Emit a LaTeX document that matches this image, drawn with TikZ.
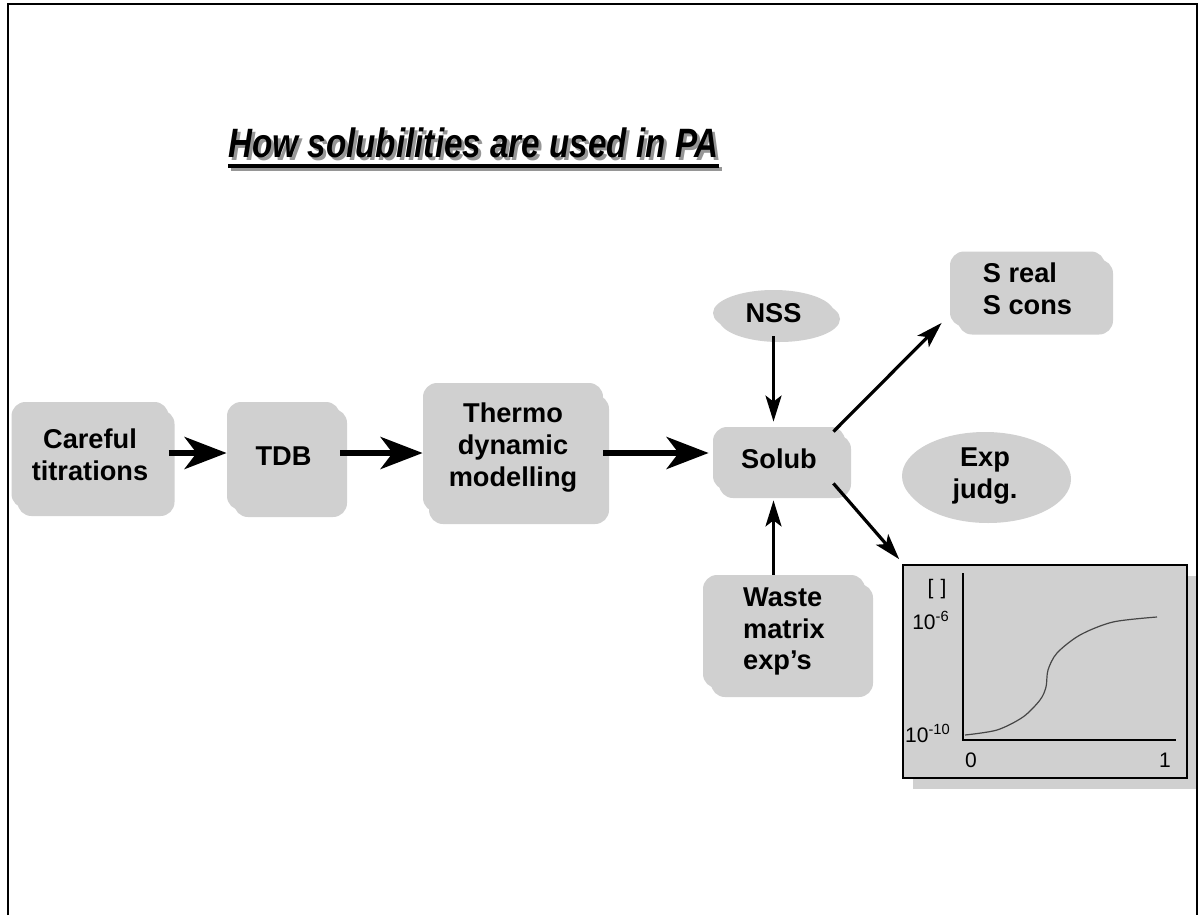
\documentclass[tikz,border=0pt]{standalone}
\usepackage{fontspec}
\setmainfont{Liberation Sans}
\usetikzlibrary{shapes.geometric}
\usetikzlibrary{shadows}
\usetikzlibrary{arrows.meta}
\usetikzlibrary{calc}

\definecolor{boxgray}{RGB}{208,208,208}
\definecolor{shadegray}{RGB}{150,150,150}
\definecolor{curvegray}{RGB}{70,70,70}

\newcommand{\titleplain}{\scalebox{0.81}[1]{How solubilities are used in PA}}
\newcommand{\titletext}{\makebox[0pt][l]{\hspace{1.5pt}\raisebox{-1.5pt}{\textcolor{shadegray}{\titleplain}}}\titleplain}

\tikzset{
  blob/.style 2 args={fill=boxgray, rounded corners=7pt, inner sep=0pt,
    font=\fontsize{13.6}{15.8}\selectfont\bfseries,
    general shadow={fill=boxgray, shadow xshift=#1, shadow yshift=-#2}},
  cloud/.style 2 args={ellipse, fill=boxgray, inner sep=0pt,
    font=\fontsize{13.6}{15.8}\selectfont\bfseries,
    general shadow={fill=boxgray, shadow xshift=#1, shadow yshift=-#2}},
  titlefont/.style={anchor=base west, inner sep=0pt,
    font=\fontsize{20.5}{24}\selectfont\bfseries\itshape},
  bigarrow/.style={line width=3pt, -{Stealth[length=21pt, width=16pt, inset=6pt]}},
  smallarrow/.style={line width=1.6pt, -{Stealth[length=13pt, width=8pt, inset=3pt]}},
  ticklabel/.style={inner sep=0pt, font=\fontsize{10.5}{12}\selectfont}
}

\begin{document}
\begin{tikzpicture}[x=0.5pt, y=-0.5pt]
  \useasboundingbox (0,0) rectangle (1198,915);

  % title, its shadow and underline
  \node (title) [titlefont] at (228,157) {\titletext};
  \draw[line width=2.2pt, shadegray] ($(title.base west)+(3,12)$) -- ($(title.base east)+(3,12)$);
  \draw[line width=2.2pt] ($(title.base west)+(0,9)$) -- ($(title.base east)+(0,9)$);

  % boxes
  \node (careful) [blob={3pt}{4pt}, minimum width=78.5pt, minimum height=53pt, align=center]
    at (90,455) {Careful\\titrations};
  \node (tdb) [blob={3.5pt}{3.5pt}, minimum width=56.5pt, minimum height=54pt]
    at (283.5,456) {TDB};
  \node (thermo) [blob={3pt}{6pt}, minimum width=90pt, minimum height=64.5pt, align=center]
    at (513,447.5) {Thermo\\dynamic\\modelling};
  \node (solub) [blob={3pt}{4pt}, minimum width=66pt, minimum height=31.5pt]
    at (779,458.5) {Solub};
  \node (nss) [cloud={3pt}{3pt}, minimum width=60.5pt, minimum height=23pt]
    at (773.5,313) {NSS};
  \node (sreal) [blob={4pt}{4pt}, minimum width=77.5pt, minimum height=37.5pt, align=left]
    at (1027.5,289) {S real\\S cons};
  \node (expj) [cloud={1.5pt}{1.5pt}, minimum width=83pt, minimum height=44pt, align=center]
    at (985,476) {Exp\\judg.};
  \node (waste) [blob={4pt}{4.5pt}, minimum width=81pt, minimum height=56.5pt, align=left]
    at (784,631.5) {Waste\\matrix\\exp’s};

  % small graph
  \node (graph) [draw, line width=0.8pt, fill=boxgray, minimum width=142pt, minimum height=106.5pt,
    general shadow={fill=boxgray, shadow xshift=5pt, shadow yshift=-5.5pt}] at (1045,671.5) {};
  \draw[line width=0.8pt] (963,573) -- (963,740) -- (1176,740);
  \draw[line width=0.6pt, curvegray] plot[smooth] coordinates {(965,735) (997,730) (1023,717)
    (1040,700) (1046,687) (1048,670) (1057,653) (1080,635) (1113,622) (1157,617)};
  \node (ylab) [ticklabel] at (937,589) {[\,\,]};
  \node (ytop) [ticklabel] at (931,620) {10\textsuperscript{-6}};
  \node (ybot) [ticklabel] at (928,733) {10\textsuperscript{-10}};
  \node (xzero) [ticklabel] at (971,760) {0};
  \node (xone) [ticklabel] at (1165,760) {1};

  % connectors
  \coordinate (row) at (0,453);
  \draw[bigarrow] (careful.east |- row) -- (tdb.west |- row);
  \draw[bigarrow] (tdb.east |- row) -- (thermo.west |- row);
  \draw[bigarrow] (thermo.east |- row) -- ($(solub.west |- row)+(-4,0)$);
  \draw[smallarrow] (nss.south) -- ($(nss.south |- solub.north)+(0,-5)$);
  \draw[smallarrow] (waste.north -| nss.south) -- ($(solub.south -| nss.south)+(0,10)$);
  \draw[smallarrow] ($(solub.north east)+(-12,5)$) -- ($(sreal.south west)+(-8,-4)$);
  \draw[smallarrow] ($(solub.south east)+(-12,-7)$) -- ($(graph.north west)+(-3,-5)$);

  % page frame, open at the bottom
  \draw[line width=1pt] (8,915) -- (8,4) -- (1197,4) -- (1197,915);
\end{tikzpicture}
\end{document}
